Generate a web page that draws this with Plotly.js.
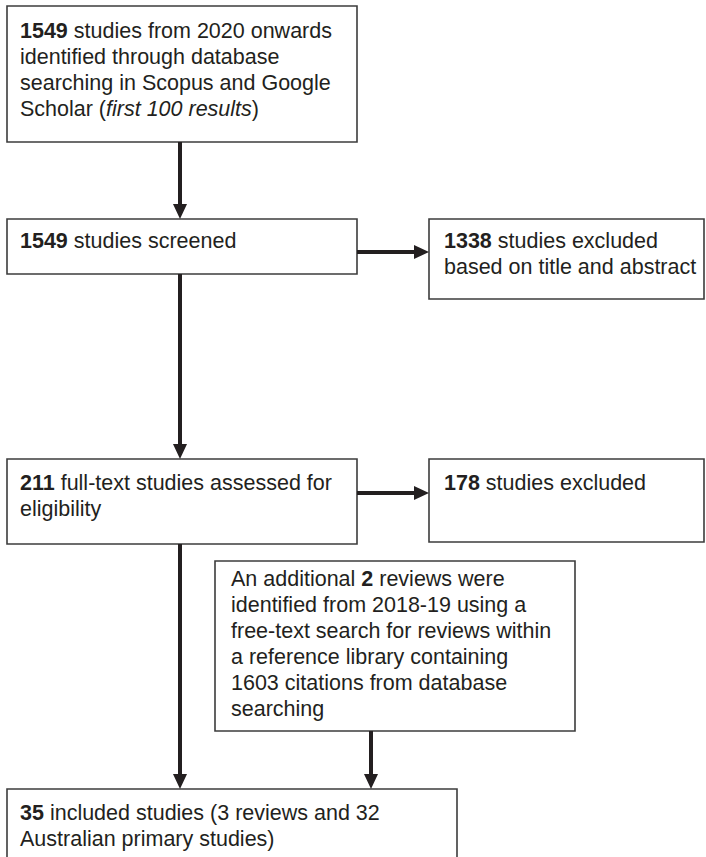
<!DOCTYPE html>
<html>
<head>
<meta charset="utf-8">
<script src="https://cdn.plot.ly/plotly-3.0.1.min.js"></script>
<style>html,body{margin:0;padding:0;background:#fff;}#chart{width:706px;height:857px;}</style>
</head>
<body>
<div id="chart"></div>
<script>
// ---- Data (counts) ----
const identifiedCount = 1549;
const screenedCount = 1549;
const excludedTitleAbstract = 1338;
const fullTextCount = 211;
const excludedFullText = 178;
const additionalReviews = 2;
const referenceLibraryCitations = 1603;
const includedCount = 35;
const includedReviews = 3;
const includedPrimary = 32;

const boxLines = [
  ['<b>' + identifiedCount + '</b> studies from 2020 onwards', 'identified through database',
   'searching in Scopus and Google', 'Scholar (<i>first 100 results</i>)'],
  ['<b>' + screenedCount + '</b> studies screened'],
  ['<b>' + excludedTitleAbstract + '</b> studies excluded', 'based on title and abstract'],
  ['<b>' + fullTextCount + '</b> full-text studies assessed for', 'eligibility'],
  ['<b>' + excludedFullText + '</b> studies excluded'],
  ['An additional <b>' + additionalReviews + '</b> reviews were', 'identified from 2018-19 using a',
   'free-text search for reviews within', 'a reference library containing',
   referenceLibraryCitations + ' citations from database', 'searching'],
  ['<b>' + includedCount + '</b> included studies (' + includedReviews + ' reviews and ' + includedPrimary,
   'Australian primary studies)']
];

// ---- Layout geometry (pixel space) ----
const boxes = [
  {x0: 7,   x1: 357, y0: 6,   y1: 142, tx: 18,  ty: 31},
  {x0: 7,   x1: 357, y0: 219, y1: 274, tx: 18,  ty: 241},
  {x0: 429, x1: 704, y0: 219, y1: 299, tx: 442, ty: 241},
  {x0: 7,   x1: 357, y0: 459, y1: 544, tx: 18,  ty: 483},
  {x0: 429, x1: 704, y0: 459, y1: 542, tx: 442, ty: 483},
  {x0: 215, x1: 575, y0: 561, y1: 731, tx: 229, ty: 579},
  {x0: 7,   x1: 457, y0: 789, y1: 880, tx: 18,  ty: 813}
];
const lineStep = 26;
// arrows: [x0, y0, x1, y1] tip at (x1,y1)
const arrows = [
  [180, 142, 180, 219],
  [357, 252, 429, 252],
  [180, 274, 180, 459],
  [357, 493, 429, 493],
  [180, 544, 180, 789],
  [371, 731, 371, 789]
];

const ink = '#231f20';
const shapes = [];
const annotations = [];

boxes.forEach((b, i) => {
  shapes.push({type: 'rect', xref: 'x', yref: 'y', x0: b.x0, x1: b.x1, y0: b.y0, y1: b.y1,
    line: {color: '#3c3c3c', width: 1.6}, fillcolor: 'rgba(0,0,0,0)', layer: 'above'});
  boxLines[i].forEach((t, j) => {
    annotations.push({xref: 'x', yref: 'y', x: b.tx, y: b.ty + j * lineStep, xanchor: 'left', yanchor: 'middle',
      align: 'left', showarrow: false, text: t,
      font: {family: 'Liberation Sans, Arial, Helvetica, sans-serif', size: 21.5, color: ink}});
  });
});

const headLen = 15, headHalf = 7;
arrows.forEach(a => {
  const [x0, y0, x1, y1] = a;
  const dx = x1 - x0, dy = y1 - y0;
  const L = Math.hypot(dx, dy);
  const ux = dx / L, uy = dy / L;
  const bx = x1 - ux * headLen, by = y1 - uy * headLen;
  shapes.push({type: 'line', xref: 'x', yref: 'y', x0: x0, y0: y0, x1: bx + ux * 1, y1: by + uy * 1,
    line: {color: ink, width: 4}});
  const px = -uy, py = ux;
  const p = 'M ' + x1 + ' ' + y1 +
    ' L ' + (bx + px * headHalf) + ' ' + (by + py * headHalf) +
    ' L ' + (bx - px * headHalf) + ' ' + (by - py * headHalf) + ' Z';
  shapes.push({type: 'path', xref: 'x', yref: 'y', path: p, fillcolor: ink, line: {color: ink, width: 0}});
});

const layout = {
  width: 706, height: 857,
  margin: {l: 0, r: 0, t: 0, b: 0, pad: 0},
  paper_bgcolor: '#ffffff', plot_bgcolor: '#ffffff',
  showlegend: false,
  xaxis: {range: [0, 706], visible: false, fixedrange: true},
  yaxis: {range: [857, 0], visible: false, fixedrange: true},
  shapes: shapes,
  annotations: annotations
};

Plotly.newPlot('chart', [{x: [], y: [], type: 'scatter', mode: 'markers', hoverinfo: 'skip'}], layout,
  {staticPlot: true, displayModeBar: false});
</script>
</body>
</html>
